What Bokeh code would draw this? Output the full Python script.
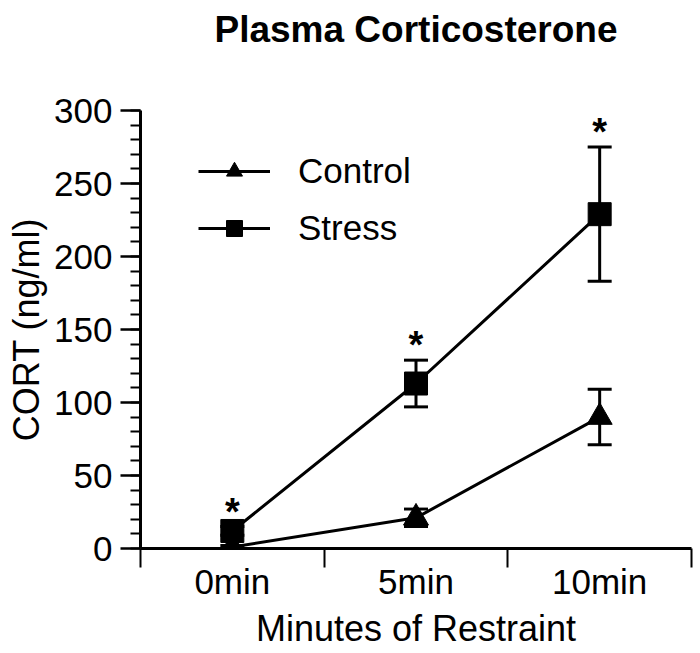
from bokeh.plotting import figure
from bokeh.models import FixedTicker, Range1d, Legend, LegendItem, ColumnDataSource, LinearAxis
from bokeh.core.properties import value
from bokeh.embed import file_html
from bokeh.resources import INLINE

categories = ["0min", "5min", "10min"]
control_mean = [1, 21, 90]
control_sem = [1, 6, 19]
stress_mean = [12, 113, 229]
stress_sem = [3, 16, 46]
significant = [True, True, True]
y_ticks = [0, 50, 100, 150, 200, 250, 300]
y_minor = list(range(0, 301, 10))

FONT = "Liberation Sans"

xs = [i + 0.5 for i in range(len(categories))]
x_start, x_end = 0, len(categories)
y_start, y_end = 0, 300

p = figure(width=700, height=653, output_backend="svg", toolbar_location=None,
           x_range=Range1d(x_start, x_end), y_range=Range1d(y_start, y_end),
           min_border_left=140, min_border_right=9, min_border_top=110, min_border_bottom=105)
p.outline_line_color = None
p.grid.visible = False
p.background_fill_color = "white"

xa = p.below[0]
ya = p.left[0]

# chart title, carried by a bare axis above the frame
title_axis = LinearAxis(ticker=FixedTicker(ticks=[]), axis_label="Plasma Corticosterone")
title_axis.axis_line_color = None
title_axis.major_tick_out = 0
title_axis.major_tick_in = 0
title_axis.minor_tick_out = 0
title_axis.minor_tick_in = 0
title_axis.major_label_standoff = 0
title_axis.major_label_text_font_size = "1px"
title_axis.axis_label_standoff = 61
title_axis.axis_label_text_font = FONT
title_axis.axis_label_text_font_size = "37px"
title_axis.axis_label_text_font_style = "bold"
title_axis.axis_label_text_color = "black"
p.add_layout(title_axis, "above")

def src(mean, sem):
    return ColumnDataSource(dict(x=xs, y=mean,
                                 lo=[m - s for m, s in zip(mean, sem)],
                                 hi=[m + s for m, s in zip(mean, sem)]))

cs = src(control_mean, control_sem)
ss = src(stress_mean, stress_sem)

cl = p.line("x", "y", source=cs, line_color="black", line_width=3)
sl = p.line("x", "y", source=ss, line_color="black", line_width=3)
for s in (cs, ss):
    p.segment(x0="x", y0="lo", x1="x", y1="hi", source=s, line_color="black", line_width=3)
    p.scatter("x", "lo", source=s, marker="dash", size=24, line_color="black", line_width=3)
    p.scatter("x", "hi", source=s, marker="dash", size=24, line_color="black", line_width=3)
cm = p.scatter("x", "y", source=cs, marker="triangle", size=25, fill_color="black", line_color="black", line_width=1)
sm = p.scatter("x", "y", source=ss, marker="square", size=23, fill_color="black", line_color="black", line_width=1)

# significance asterisks above stress error bars
ax_ = [x for x, sig in zip(xs, significant) if sig]
ay_ = [m + s for m, s, sig in zip(stress_mean, stress_sem, significant) if sig]
p.text(x=ax_, y=ay_, text=["*"] * len(ax_), text_font=value(FONT), text_font_size="38px",
       text_font_style="bold", text_align="center", text_baseline="alphabetic",
       y_offset=-15, text_color="black")

# x axis: category boundary ticks (minor), labels at centres
xa.ticker = FixedTicker(ticks=xs, minor_ticks=list(range(len(categories) + 1)))
xa.major_label_overrides = {x: c for x, c in zip(xs, categories)}
xa.major_tick_out = 0
xa.major_tick_in = 0
xa.minor_tick_out = 19
xa.minor_tick_in = 0
xa.minor_tick_line_width = 2
xa.minor_tick_line_color = "black"
xa.axis_line_width = 3
xa.axis_line_color = "black"
xa.major_label_text_font = FONT
xa.major_label_text_font_size = "35px"
xa.major_label_text_color = "black"
xa.major_label_standoff = -6
xa.axis_label = "Minutes of Restraint"
xa.axis_label_text_font = FONT
xa.axis_label_text_font_size = "36px"
xa.axis_label_text_font_style = "normal"
xa.axis_label_text_color = "black"
xa.axis_label_standoff = 4

ya.ticker = FixedTicker(ticks=y_ticks, minor_ticks=y_minor)
ya.major_tick_out = 20
ya.major_tick_in = 0
ya.minor_tick_out = 10
ya.minor_tick_in = 0
ya.major_tick_line_width = 2.5
ya.minor_tick_line_width = 2
ya.axis_line_width = 3
ya.axis_line_color = "black"
ya.major_tick_line_color = "black"
ya.minor_tick_line_color = "black"
ya.major_label_text_font = FONT
ya.major_label_text_font_size = "35px"
ya.major_label_text_color = "black"
ya.major_label_standoff = 8
ya.axis_label = "CORT (ng/ml)"
ya.axis_label_text_font = FONT
ya.axis_label_text_font_size = "36px"
ya.axis_label_text_font_style = "normal"
ya.axis_label_text_color = "black"
ya.axis_label_standoff = 4

legend = Legend(items=[LegendItem(label="Control", renderers=[cl, cm]),
                       LegendItem(label="Stress", renderers=[sl, sm])],
                location=(58, 300))
legend.label_text_font = FONT
legend.label_text_font_size = "35px"
legend.label_text_color = "black"
legend.glyph_width = 72
legend.glyph_height = 40
legend.label_height = 40
legend.label_standoff = 28
legend.spacing = 17
legend.padding = 0
legend.margin = 0
legend.border_line_color = None
legend.background_fill_alpha = 0
p.add_layout(legend)

open("out.html", "w").write(file_html(p, INLINE))
